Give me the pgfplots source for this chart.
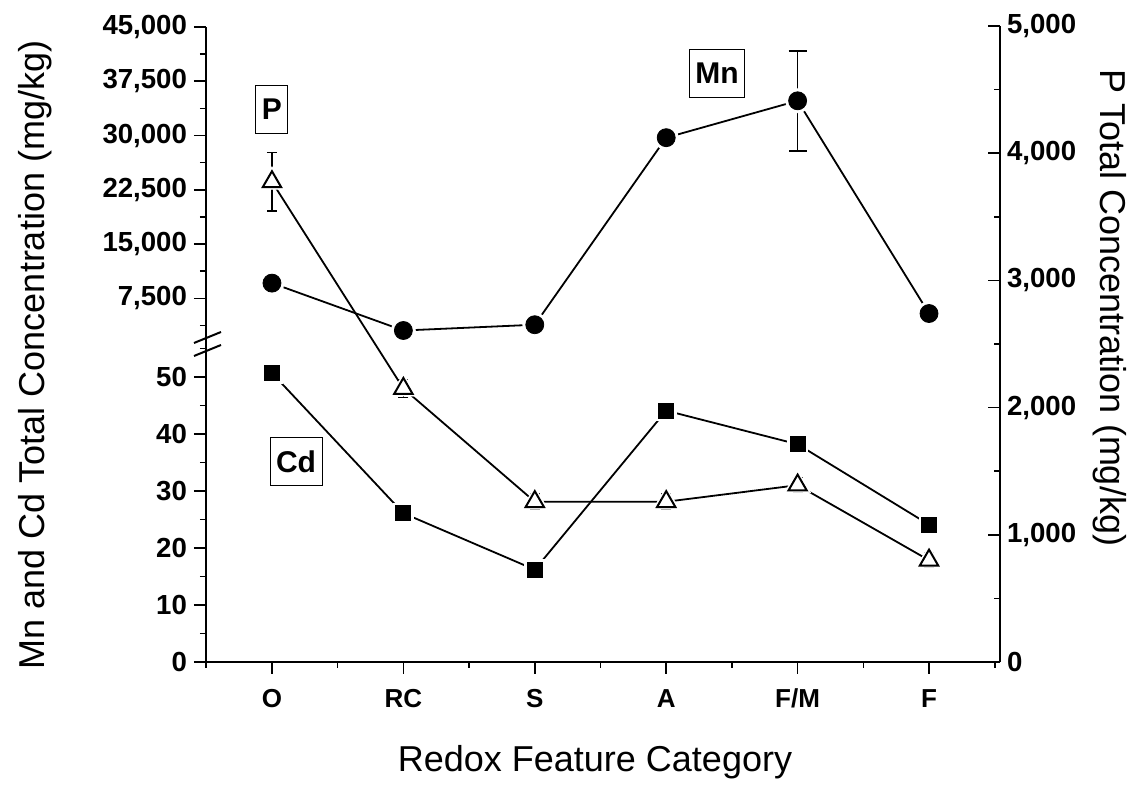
\documentclass[border=0pt]{standalone}
\usepackage{pgfplots}
\pgfplotsset{compat=1.18}
\usepackage{pgfplotstable}
\usepackage{fontspec}
\setmainfont{Liberation Sans}

\pgfplotstableread{
x Mn Mnerr
0 9600 0
1 3050 0
2 3850 0
3 29700 700
4 34800 6900
5 5400 0
}\mndata

\pgfplotstableread{
x Cd
0 50.7
1 26.1
2 16.2
3 44.1
4 38.2
5 24.1
}\cddata

\pgfplotstableread{
x P Perr
0 3775 230
1 2150 70
2 1260 60
3 1260 60
4 1390 60
5 800 60
}\pdata

\pgfplotsset{
  base/.style={
    width=397pt, scale only axis, anchor=south west,
    xmin=-0.502, xmax=5.54,
    tick style={black, line width=0.8pt},
    major tick length=6pt, minor tick length=3pt,
    axis line style={-, line width=1.1pt},
    clip=false,
    scaled y ticks=false,
    /pgf/number format/1000 sep={,},
    /pgf/number format/assume math mode=true,
    yticklabel style={font=\fontsize{13.8}{13.8}\selectfont\bfseries},
    xticklabel style={font=\fontsize{13}{13}\selectfont\bfseries, text height=10pt, text depth=0pt},
  },
  dataline/.style={black, line width=0.9pt},
}

\begin{document}
\begin{tikzpicture}
\path[use as bounding box] (-103pt,-62pt) rectangle (469.5pt,331pt);

% lower segment: Cd
\begin{axis}[base, at={(0,0)}, height=158pt,
  ymin=0, ymax=55.44,
  axis x line*=bottom, axis y line*=left,
  tick align=outside,
  xtick={0,1,2,3,4,5}, xticklabels={O,RC,S,A,F/M,F},
  minor xtick={-0.5,0.5,1.5,2.5,3.5,4.5,5.5},
  ytick={0,10,20,30,40,50}, minor ytick={5,15,25,35,45,55},
  xticklabel style={yshift=-3pt},
]
\addplot[dataline] table[x=x,y=Cd]{\cddata};
\addplot[only marks, mark=square*, mark size=5pt, white] table[x=x,y=Cd]{\cddata};
\addplot[only marks, mark=square*, mark size=3.75pt, black] table[x=x,y=Cd]{\cddata};
\end{axis}

% upper segment: Mn
\begin{axis}[base, at={(0,158pt)}, height=159.5pt,
  ymin=911, ymax=45000,
  axis x line=none, axis y line*=left,
  tick align=outside,
  ytick={7500,15000,22500,30000,37500,45000},
  minor ytick={3750,11250,18750,26250,33750,41250},
]
\addplot[dataline, error bars/.cd, y dir=both, y explicit,
  error bar style={line width=0.8pt},
  error mark options={rotate=90, mark size=4.5pt, line width=0.8pt}]
  table[x=x,y=Mn,y error=Mnerr]{\mndata};
\addplot[only marks, mark=*, mark size=6pt, white] table[x=x,y=Mn]{\mndata};
\addplot[only marks, mark=*, mark size=4.5pt, black] table[x=x,y=Mn]{\mndata};
\end{axis}

% P on right axis
\begin{axis}[base, at={(0,0)}, height=318pt,
  ymin=0, ymax=5000,
  axis x line=none, axis y line*=right,
  tick align=inside,
  ytick={0,1000,2000,3000,4000,5000},
  minor ytick={500,1500,2500,3500,4500},
]
\addplot[dataline, error bars/.cd, y dir=both, y explicit,
  error bar style={line width=0.6pt},
  error mark options={rotate=90, mark size=2.5pt, line width=0.6pt}]
  table[x=x,y=P,y error=Perr]{\pdata};
\addplot[only marks, mark=triangle*, mark size=7.5pt, white] table[x=x,y=P]{\pdata};
\addplot[only marks, mark=triangle*, mark size=5.3pt, mark options={draw=black, fill=white, line width=1pt}] table[x=x,y=P]{\pdata};

\node[draw, line width=0.5pt, minimum height=24pt, inner xsep=3pt, font=\fontsize{15}{15}\selectfont\bfseries] at (axis cs:0,4345) {P};
\node[draw, line width=0.5pt, minimum height=24pt, inner xsep=3pt, font=\fontsize{15}{15}\selectfont\bfseries] at (axis cs:3.387,4627) {Mn};
\node[draw, line width=0.5pt, minimum height=24pt, inner xsep=3pt, font=\fontsize{15}{15}\selectfont\bfseries] at (axis cs:0.183,1574) {Cd};
\end{axis}

% axis break marks
\draw[line width=1pt] (-6pt,159.5pt) -- (7.5pt,165pt);
\draw[line width=1pt] (-6pt,153pt) -- (7.5pt,158.5pt);

% axis titles
\node[rotate=90, font=\fontsize{18}{18}\selectfont] at (-85.5pt,153.5pt) {Mn and Cd Total Concentration (mg/kg)};
\node[rotate=-90, font=\fontsize{18}{18}\selectfont] at (452pt,177pt) {P Total Concentration (mg/kg)};
\node[font=\fontsize{18}{18}\selectfont] at (194.5pt,-50pt) {Redox Feature Category};
\end{tikzpicture}
\end{document}
